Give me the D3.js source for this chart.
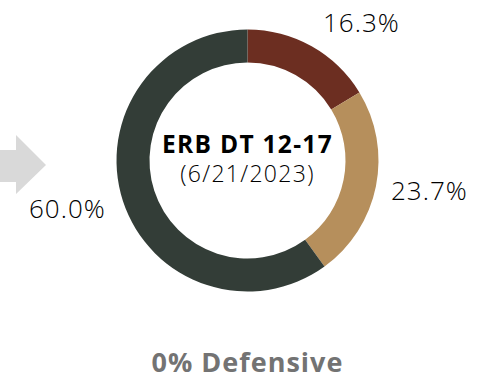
<!DOCTYPE html>
<html>
<head>
<meta charset="utf-8">
<script src="https://cdn.jsdelivr.net/npm/d3@7"></script>
<style>
  html, body { margin: 0; padding: 0; background: #fff; }
  svg { display: block; }
</style>
</head>
<body>
<div id="chart"></div>
<script>
/* ============================
   DATA
============================ */
const categories = ["Red", "Tan", "Dark"];
const values = [16.3, 23.7, 60.0];
const labels = ["16.3%", "23.7%", "60.0%"];
const colors = ["#6c2e21", "#b68f5c", "#333d37"];

const titleText = "ERB DT 12-17";
const subText = "(6/21/2023)";
const footText = "0% Defensive";

/* ============================
   CHART
============================ */
const W = 491, H = 385;
const cx = 247.5, cy = 160.5;
const rOuter = 131, rInner = 98;

const svg = d3.select("#chart").append("svg")
  .attr("width", W).attr("height", H);

// flecha gris a la izquierda
svg.append("path")
  .attr("d", "M0,150 L16,150 L16,135 L46,165 L16,194 L16,182 L0,182 Z")
  .attr("fill", "#d9d9d9");

const g = svg.append("g").attr("transform", `translate(${cx},${cy})`);

const pie = d3.pie().sort(null).value(d => d);
const arcs = pie(values);
const arc = d3.arc().innerRadius(rInner).outerRadius(rOuter);

g.selectAll("path.slice")
  .data(arcs)
  .enter()
  .append("path")
  .attr("class", "slice")
  .attr("d", arc)
  .attr("fill", (d, i) => colors[i]);

// etiquetas de porcentaje (posición por ángulo medio + ajuste)
const labelArc = d3.arc().innerRadius(rOuter + 30).outerRadius(rOuter + 30);
const labelOffsets = [[35, 12], [24, 8], [-27, 8]];

g.selectAll("text.pct")
  .data(arcs)
  .enter()
  .append("text")
  .attr("class", "pct")
  .attr("x", (d, i) => labelArc.centroid(d)[0] + labelOffsets[i][0])
  .attr("y", (d, i) => labelArc.centroid(d)[1] + labelOffsets[i][1])
  .attr("text-anchor", "middle")
  .attr("font-family", "'Open Sans', Roboto, sans-serif")
  .attr("font-weight", 300)
  .attr("font-size", 26)
  .attr("letter-spacing", 1)
  .attr("fill", "#000")
  .text((d, i) => labels[i]);

// texto central
g.append("text")
  .attr("x", 0).attr("y", -8)
  .attr("text-anchor", "middle")
  .attr("font-family", "'Open Sans', sans-serif")
  .attr("font-weight", 700)
  .attr("font-size", 24.5)
  .attr("letter-spacing", 1.3)
  .attr("fill", "#000")
  .text(titleText);

g.append("text")
  .attr("x", 0).attr("y", 21)
  .attr("text-anchor", "middle")
  .attr("font-family", "'Open Sans', sans-serif")
  .attr("font-weight", 300)
  .attr("font-size", 23)
  .attr("letter-spacing", 1.3)
  .attr("fill", "#000")
  .text(subText);

svg.append("text")
  .attr("x", cx).attr("y", 372)
  .attr("text-anchor", "middle")
  .attr("font-family", "'Open Sans', sans-serif")
  .attr("font-weight", 700)
  .attr("font-size", 27)
  .attr("letter-spacing", 1)
  .attr("fill", "#737373")
  .text(footText);
</script>
</body>
</html>
